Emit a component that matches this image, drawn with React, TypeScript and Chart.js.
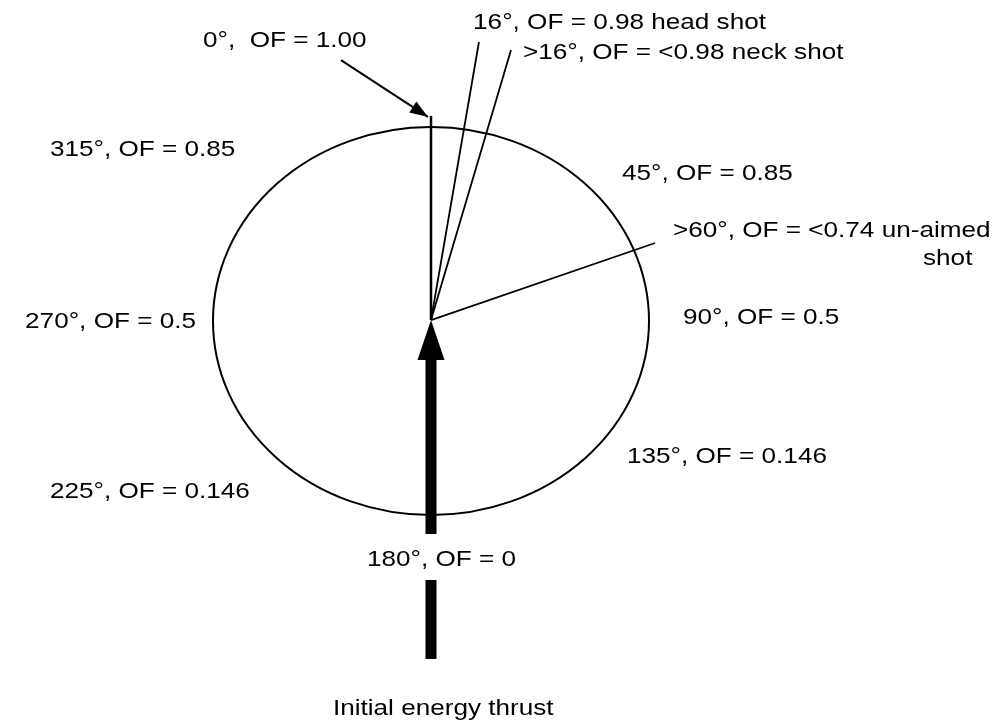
import React, { useEffect, useRef } from "react";
import { Chart, registerables } from "chart.js";

Chart.register(...registerables);

// Diagram units: ellipse centred at (0,0) with unit semi-axes.
const ellipseCenter = [0, 0];
const ellipseRadii = [1, 1];

// Direction rays from the centre (end points)
const rayNames = ["0°", "16°", ">16°", ">60°"];
const rayEndX = [0, 0.22, 0.367, 1.028];
const rayEndY = [1.057, 1.438, 1.397, 0.402];
const rayWidths = [2.5, 1.8, 1.8, 1.8];

// Thick "initial energy thrust" arrow, split by the 180° label
const thrustLowerY = [-1.742, -1.335];
const thrustUpperY = [-1.098, -0.19];
const thrustTip = [0, 0.005];

// Pointer arrow from the 0° label
const pointerStart = [-0.413, 1.345];
const pointerTip = [-0.014, 1.052];

// Text labels (anchor = left end of the text baseline)
const labelTexts = [
  "0°,  OF = 1.00",
  "16°, OF = 0.98 head shot",
  ">16°, OF = <0.98 neck shot",
  "315°, OF = 0.85",
  "45°, OF = 0.85",
  ">60°, OF = <0.74 un-aimed",
  "shot",
  "270°, OF = 0.5",
  "90°, OF = 0.5",
  "135°, OF = 0.146",
  "225°, OF = 0.146",
  "180°, OF = 0",
  "Initial energy thrust",
];
const labelX = [-1.046, 0.193, 0.422, -1.748, 0.876, 1.11, 2.257, -1.862, 1.156, 0.899, -1.748, -0.294, -0.45];
const labelY = [1.411, 1.504, 1.349, 0.852, 0.726, 0.432, 0.288, -0.035, -0.017, -0.73, -0.911, -1.261, -2.029];

const FONT = '21.5px "Liberation Sans", Arial, sans-serif';
const H_SCALE = 1.215;

function drawHead(ctx: CanvasRenderingContext2D, tx: number, ty: number, fx: number, fy: number, len: number, hw: number) {
  const dx = tx - fx;
  const dy = ty - fy;
  const d = Math.hypot(dx, dy) || 1;
  const ux = dx / d;
  const uy = dy / d;
  const bx = tx - ux * len;
  const by = ty - uy * len;
  ctx.beginPath();
  ctx.moveTo(tx, ty);
  ctx.lineTo(bx - uy * hw, by + ux * hw);
  ctx.lineTo(bx + uy * hw, by - ux * hw);
  ctx.closePath();
  ctx.fill();
}

const diagramPlugin = {
  id: "diagram",
  beforeDatasetsDraw(chart: any) {
    const { ctx, scales } = chart;
    const x = scales.x;
    const y = scales.y;
    const cx = x.getPixelForValue(ellipseCenter[0]);
    const cy = y.getPixelForValue(ellipseCenter[1]);
    const rx = Math.abs(x.getPixelForValue(ellipseCenter[0] + ellipseRadii[0]) - cx);
    const ry = Math.abs(y.getPixelForValue(ellipseCenter[1] + ellipseRadii[1]) - cy);
    ctx.save();
    ctx.beginPath();
    ctx.ellipse(cx, cy, rx, ry, 0, 0, Math.PI * 2);
    ctx.lineWidth = 2;
    ctx.strokeStyle = "#000";
    ctx.stroke();
    ctx.restore();
  },
  afterDatasetsDraw(chart: any) {
    const { ctx, scales } = chart;
    const x = scales.x;
    const y = scales.y;
    ctx.save();
    ctx.fillStyle = "#000";
    // thick arrow head
    drawHead(
      ctx,
      x.getPixelForValue(thrustTip[0]),
      y.getPixelForValue(thrustTip[1]),
      x.getPixelForValue(thrustTip[0]),
      y.getPixelForValue(thrustUpperY[0]),
      40,
      13.5
    );
    // pointer arrow head
    drawHead(
      ctx,
      x.getPixelForValue(pointerTip[0]),
      y.getPixelForValue(pointerTip[1]),
      x.getPixelForValue(pointerStart[0]),
      y.getPixelForValue(pointerStart[1]),
      18,
      6.5
    );
    // labels
    ctx.font = FONT;
    ctx.textAlign = "left";
    ctx.textBaseline = "alphabetic";
    labelTexts.forEach((t, i) => {
      ctx.save();
      ctx.translate(x.getPixelForValue(labelX[i]), y.getPixelForValue(labelY[i]));
      ctx.scale(H_SCALE, 1);
      ctx.fillText(t, 0, 0);
      ctx.restore();
    });
    ctx.restore();
  },
};

export default function App() {
  const ref = useRef<HTMLCanvasElement | null>(null);
  useEffect(() => {
    if (!ref.current) return;
    const line = (data: { x: number; y: number }[], width: number, label: string) => ({
      label,
      data,
      showLine: true,
      borderColor: "#000",
      backgroundColor: "#000",
      borderWidth: width,
      pointRadius: 0,
      borderCapStyle: "butt" as const,
      fill: false,
    });
    const datasets: any[] = rayNames.map((n, i) =>
      line(
        [
          { x: thrustTip[0], y: thrustTip[1] },
          { x: rayEndX[i], y: rayEndY[i] },
        ],
        rayWidths[i],
        n
      )
    );
    datasets.push(
      line(
        [
          { x: thrustTip[0], y: thrustUpperY[0] },
          { x: thrustTip[0], y: thrustUpperY[1] },
        ],
        11,
        "thrust upper"
      )
    );
    datasets.push(
      line(
        [
          { x: thrustTip[0], y: thrustLowerY[0] },
          { x: thrustTip[0], y: thrustLowerY[1] },
        ],
        11,
        "thrust lower"
      )
    );
    datasets.push(
      line(
        [
          { x: pointerStart[0], y: pointerStart[1] },
          { x: pointerTip[0], y: pointerTip[1] },
        ],
        2,
        "pointer"
      )
    );
    const chart = new Chart(ref.current, {
      type: "scatter",
      data: { datasets },
      options: {
        animation: false,
        responsive: false,
        maintainAspectRatio: false,
        layout: { padding: 0 },
        plugins: { legend: { display: false }, tooltip: { enabled: false } },
        scales: {
          x: { type: "linear", min: -431 / 218, max: 574 / 218, display: false },
          y: { type: "linear", min: -403 / 194, max: 321 / 194, display: false },
        },
      },
      plugins: [diagramPlugin],
    });
    return () => chart.destroy();
  }, []);
  return (
    <div style={{ position: "fixed", left: 0, top: 0, width: 1005, height: 724, background: "#fff" }}>
      <canvas ref={ref} width={1005} height={724} style={{ display: "block" }} />
    </div>
  );
}
